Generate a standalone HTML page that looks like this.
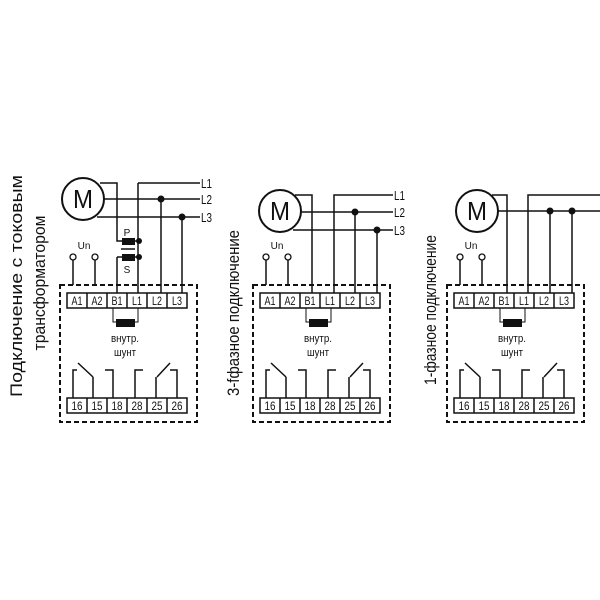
<!DOCTYPE html>
<html><head><meta charset="utf-8"><style>
html,body{margin:0;padding:0;background:#fff}
svg{display:block}
text{font-family:"Liberation Sans Narrow","Liberation Sans",sans-serif;fill:#111}
</style></head><body>
<svg width="600" height="600" viewBox="0 0 600 600" xmlns="http://www.w3.org/2000/svg">
<defs>
<g id="box" fill="none" stroke="#111">
  <rect x="60" y="285" width="137" height="137" stroke-width="2" stroke-dasharray="5,3"/>
  <rect x="67" y="293" width="120" height="15" stroke-width="1.5" fill="#fff"/>
  <path d="M87 293V308M107 293V308M127 293V308M147 293V308M167 293V308" stroke-width="1.5"/>
  <rect x="67" y="398" width="120" height="15" stroke-width="1.5" fill="#fff"/>
  <path d="M87 398V413M107 398V413M127 398V413M147 398V413M167 398V413" stroke-width="1.5"/>
  <path d="M113 308V322H116M135 322H138V308" stroke-width="1"/>
  <rect x="116" y="319" width="19" height="8" fill="#111" stroke="none"/>
  <path d="M73 398V370H77M78 363L93 377M93 377V398M105 370H113V398M135 398V370H143M156 398V377M157 377L170 363M170 370H177V398" stroke-width="1.5"/>
  <path d="M73 260V285M95 260V285" stroke-width="1.5"/>
  <circle cx="73" cy="257" r="3" fill="#fff" stroke-width="1.3"/>
  <circle cx="95" cy="257" r="3" fill="#fff" stroke-width="1.3"/>
</g>
<g id="boxtext">
  <text x="84" y="249" font-size="10" text-anchor="middle">Un</text>
  <g font-size="12" text-anchor="middle">
    <text x="77" y="305" textLength="11" lengthAdjust="spacingAndGlyphs">A1</text><text x="97" y="305" textLength="11" lengthAdjust="spacingAndGlyphs">A2</text><text x="117" y="305" textLength="11" lengthAdjust="spacingAndGlyphs">B1</text>
    <text x="137" y="305" textLength="10" lengthAdjust="spacingAndGlyphs">L1</text><text x="157" y="305" textLength="10" lengthAdjust="spacingAndGlyphs">L2</text><text x="177" y="305" textLength="10" lengthAdjust="spacingAndGlyphs">L3</text>
    <text x="77" y="410" textLength="11" lengthAdjust="spacingAndGlyphs">16</text><text x="97" y="410" textLength="11" lengthAdjust="spacingAndGlyphs">15</text><text x="117" y="410" textLength="11" lengthAdjust="spacingAndGlyphs">18</text>
    <text x="137" y="410" textLength="11" lengthAdjust="spacingAndGlyphs">28</text><text x="157" y="410" textLength="11" lengthAdjust="spacingAndGlyphs">25</text><text x="177" y="410" textLength="11" lengthAdjust="spacingAndGlyphs">26</text>
  </g>
  <text x="125" y="342" font-size="11" text-anchor="middle" textLength="28" lengthAdjust="spacingAndGlyphs">внутр.</text>
  <text x="125" y="356" font-size="11" text-anchor="middle" textLength="22" lengthAdjust="spacingAndGlyphs">шунт</text>
</g>
</defs>

<!-- Panel 1 -->
<use href="#box"/><use href="#boxtext"/>
<g fill="none" stroke="#111" stroke-width="1.5">
  <circle cx="83" cy="199" r="21" stroke-width="2"/>
  <path d="M138 183H200M104 199H200M97 217H200"/>
  <path d="M100 183H117V241H122M117 257H122M117 257V293"/>
  <path d="M138 183V293M138 241H135M138 257H135"/>
  <path d="M161 199V293M182 217V293"/>
  <path d="M121 249H135" stroke-width="1.5"/>
</g>
<rect x="122" y="238" width="13" height="7" fill="#111"/>
<rect x="122" y="254" width="13" height="7" fill="#111"/>
<circle cx="139" cy="241" r="3" fill="#111"/><circle cx="139" cy="257" r="3" fill="#111"/>
<circle cx="161" cy="199" r="3.5" fill="#111"/><circle cx="182" cy="217" r="3.5" fill="#111"/>
<text x="83" y="208" font-size="26" text-anchor="middle" textLength="20" lengthAdjust="spacingAndGlyphs">M</text>
<text x="127" y="236" font-size="10" text-anchor="middle">P</text>
<text x="127" y="273" font-size="10" text-anchor="middle">S</text>
<g font-size="13"><text x="201" y="188" textLength="11" lengthAdjust="spacingAndGlyphs">L1</text><text x="201" y="204" textLength="11" lengthAdjust="spacingAndGlyphs">L2</text><text x="201" y="222" textLength="11" lengthAdjust="spacingAndGlyphs">L3</text></g>
<text transform="translate(22,286) rotate(-90)" font-size="17" text-anchor="middle" textLength="222" lengthAdjust="spacingAndGlyphs">Подключение с токовым</text>
<text transform="translate(45,283) rotate(-90)" font-size="17" text-anchor="middle" textLength="135" lengthAdjust="spacingAndGlyphs">трансформатором</text>

<!-- Panel 2 -->
<g transform="translate(193,0)"><use href="#box"/><use href="#boxtext"/></g>
<g fill="none" stroke="#111" stroke-width="1.5">
  <circle cx="280" cy="211" r="21" stroke-width="2"/>
  <path d="M295 195H312V293M334 293V195H393M301 212H393M293 230H393M355 212V293M377 230V293"/>
</g>
<circle cx="355" cy="212" r="3.5" fill="#111"/><circle cx="377" cy="230" r="3.5" fill="#111"/>
<text x="280" y="220" font-size="26" text-anchor="middle" textLength="20" lengthAdjust="spacingAndGlyphs">M</text>
<g font-size="13"><text x="394" y="200" textLength="11" lengthAdjust="spacingAndGlyphs">L1</text><text x="394" y="217" textLength="11" lengthAdjust="spacingAndGlyphs">L2</text><text x="394" y="235" textLength="11" lengthAdjust="spacingAndGlyphs">L3</text></g>
<text transform="translate(239,313) rotate(-90)" font-size="17" text-anchor="middle" textLength="166" lengthAdjust="spacingAndGlyphs">3-fфазное подключение</text>

<!-- Panel 3 -->
<g transform="translate(387,0)"><use href="#box"/><use href="#boxtext"/></g>
<g fill="none" stroke="#111" stroke-width="1.5">
  <circle cx="477" cy="211" r="21" stroke-width="2"/>
  <path d="M492 195H507V293M528 293V195H600M498 211H600M550 211V293M572 211V293"/>
</g>
<circle cx="550" cy="211" r="3.5" fill="#111"/><circle cx="572" cy="211" r="3.5" fill="#111"/>
<text x="477" y="220" font-size="26" text-anchor="middle" textLength="20" lengthAdjust="spacingAndGlyphs">M</text>
<text transform="translate(436,310) rotate(-90)" font-size="17" text-anchor="middle" textLength="150" lengthAdjust="spacingAndGlyphs">1-фазное подключение</text>
</svg>
</body></html>
